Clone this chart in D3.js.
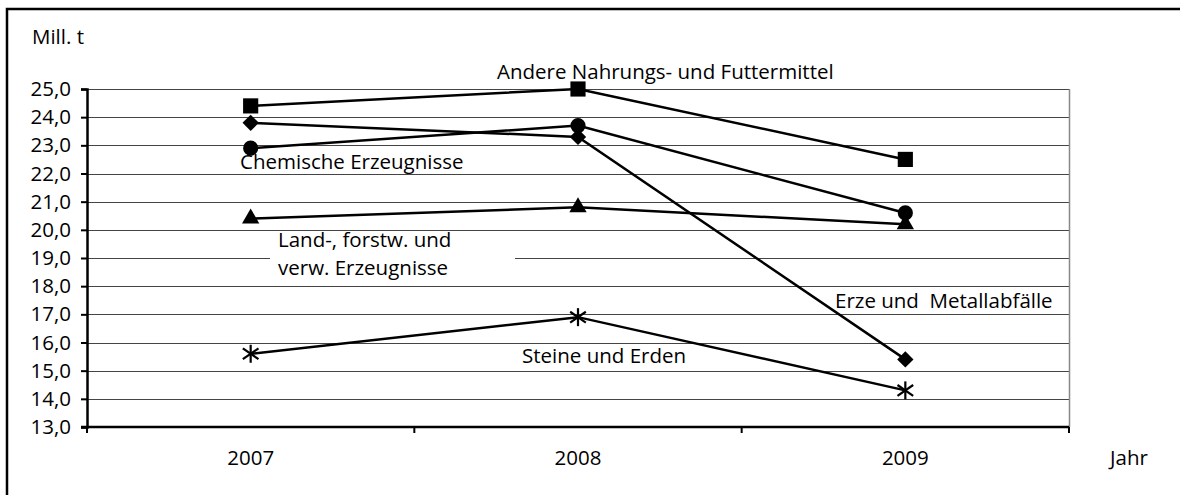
<!DOCTYPE html>
<html>
<head>
<meta charset="utf-8">
<script src="https://cdn.jsdelivr.net/npm/d3@7"></script>
<style>
  html, body { margin: 0; background: #fff; overflow: hidden; }
  svg { display: block; }
  svg text { font-family: "Open Sans", sans-serif; fill: #000; }
</style>
</head>
<body>
<div id="chart"></div>
<script>
// values in Mill. t
const years = ["2007", "2008", "2009"];
const nahrung = [24.4, 25.0, 22.5];
const erze = [23.8, 23.3, 15.4];
const chemie = [22.9, 23.7, 20.6];
const landForst = [20.4, 20.8, 20.2];
const steine = [15.6, 16.9, 14.3];
const yTicks = [13, 14, 15, 16, 17, 18, 19, 20, 21, 22, 23, 24, 25];

const series = [
    {name: "Andere Nahrungs- und Futtermittel", values: nahrung, symbol: "square"},
    {name: "Erze und  Metallabfälle", values: erze, symbol: "diamond"},
    {name: "Chemische Erzeugnisse", values: chemie, symbol: "circle"},
    {name: "Land-, forstw. und verw. Erzeugnisse", values: landForst, symbol: "triangle"},
    {name: "Steine und Erden", values: steine, symbol: "star"}
];

const width = 1180, height = 495;
const margin = {top: 89, right: 111, bottom: 68, left: 87};
const fs = 20.5;

const svg = d3.select("#chart").append("svg")
    .attr("width", width)
    .attr("height", height);

// outer frame: only the top and left edge fall inside the picture
svg.append("path")
    .attr("d", `M7,${height}V9H${width}`)
    .attr("fill", "none")
    .attr("stroke", "#000")
    .attr("stroke-width", 2.5);

const x = d3.scaleBand()
    .domain(years)
    .range([margin.left, width - margin.right]);

const y = d3.scaleLinear()
    .domain([13, 25])
    .range([height - margin.bottom, margin.top]);

// gridlines
svg.append("g")
    .selectAll("line")
    .data(yTicks.filter(d => d > 13))
    .join("line")
    .attr("x1", margin.left)
    .attr("x2", width - margin.right)
    .attr("y1", d => Math.round(y(d)) + 0.5)
    .attr("y2", d => Math.round(y(d)) + 0.5)
    .attr("stroke", "#444")
    .attr("stroke-width", 1);

// right edge of plot area
svg.append("line")
    .attr("x1", width - margin.right + 0.5)
    .attr("x2", width - margin.right + 0.5)
    .attr("y1", y(25))
    .attr("y2", y(13))
    .attr("stroke", "#888")
    .attr("stroke-width", 1.5);

// y axis
const yAxis = svg.append("g")
    .attr("transform", `translate(${margin.left},0)`)
    .call(d3.axisLeft(y)
        .tickValues(yTicks)
        .tickSize(6)
        .tickPadding(10)
        .tickFormat(d => d3.format(".1f")(d).replace(".", ",")));
yAxis.select(".domain").attr("stroke", "#000").attr("stroke-width", 2.5);
yAxis.selectAll(".tick line").attr("stroke", "#000").attr("stroke-width", 2);
yAxis.selectAll(".tick text")
    .attr("font-size", fs)
    .attr("font-family", "Open Sans, sans-serif")
    .attr("fill", "#000");

// x axis, ticks on band boundaries
const bounds = [margin.left, ...years.map(d => x(d) + x.bandwidth())];
const xAxis = svg.append("g")
    .attr("transform", `translate(0,${y(13)})`);
xAxis.append("line")
    .attr("x1", margin.left - 6)
    .attr("x2", width - margin.right)
    .attr("stroke", "#000")
    .attr("stroke-width", 2.5);
xAxis.selectAll("line.tk")
    .data(bounds)
    .join("line")
    .attr("class", "tk")
    .attr("x1", d => d).attr("x2", d => d)
    .attr("y1", 0).attr("y2", 6)
    .attr("stroke", "#000")
    .attr("stroke-width", 2);
xAxis.selectAll("text")
    .data(years)
    .join("text")
    .attr("x", d => x(d) + x.bandwidth() / 2)
    .attr("y", 38)
    .attr("text-anchor", "middle")
    .attr("font-size", fs)
    .text(d => d);

svg.append("text")
    .attr("x", 1110).attr("y", 465)
    .attr("font-size", fs)
    .text("Jahr");

svg.append("text")
    .attr("x", 32).attr("y", 44)
    .attr("font-size", fs)
    .text("Mill. t");

// lines
const cx = d => x(d) + x.bandwidth() / 2;
const line = d3.line()
    .x((d, i) => cx(years[i]))
    .y(d => y(d));

svg.append("g")
    .selectAll("path")
    .data(series)
    .join("path")
    .attr("d", s => line(s.values))
    .attr("fill", "none")
    .attr("stroke", "#000")
    .attr("stroke-width", 2.5);

// markers
const symbolMap = {
    square: d3.symbol().type(d3.symbolSquare).size(230),
    diamond: d3.symbol().type(d3.symbolDiamond2).size(170),
    circle: d3.symbol().type(d3.symbolCircle).size(180),
    triangle: d3.symbol().type(d3.symbolTriangle).size(130)
};

const markers = svg.append("g");
series.forEach(s => {
    s.values.forEach((v, i) => {
        const g = markers.append("g")
            .attr("transform", `translate(${cx(years[i])},${y(v)})`);
        if (s.symbol === "star") {
            // asterisk: vertical bar plus a cross
            const r = 9;
            const arms = [[0, -r, 0, r], [-r * 0.87, -r * 0.6, r * 0.87, r * 0.6], [-r * 0.87, r * 0.6, r * 0.87, -r * 0.6]];
            g.selectAll("line")
                .data(arms)
                .join("line")
                .attr("x1", a => a[0]).attr("y1", a => a[1])
                .attr("x2", a => a[2]).attr("y2", a => a[3])
                .attr("stroke", "#000")
                .attr("stroke-width", 2.2);
        } else {
            g.append("path")
                .attr("d", symbolMap[s.symbol]())
                .attr("fill", "#000");
        }
    });
});

// series labels
svg.append("text").attr("x", 497).attr("y", 79).attr("font-size", fs)
    .text(series[0].name);
svg.append("text").attr("x", 240).attr("y", 169).attr("font-size", fs)
    .text(series[2].name);
svg.append("text").attr("x", 835).attr("y", 308).attr("font-size", fs)
    .attr("xml:space", "preserve").style("white-space", "pre")
    .text(series[1].name);
svg.append("text").attr("x", 522).attr("y", 363).attr("font-size", fs)
    .text(series[4].name);

// boxed label for the Land- und Forstwirtschaft series
svg.append("rect")
    .attr("x", 270).attr("y", 232)
    .attr("width", 245).attr("height", 53)
    .attr("fill", "#fff");
const lf = svg.append("text").attr("font-size", fs);
lf.append("tspan").attr("x", 278).attr("y", 247).text("Land-, forstw. und");
lf.append("tspan").attr("x", 278).attr("y", 275).text("verw. Erzeugnisse");
</script>
</body>
</html>
